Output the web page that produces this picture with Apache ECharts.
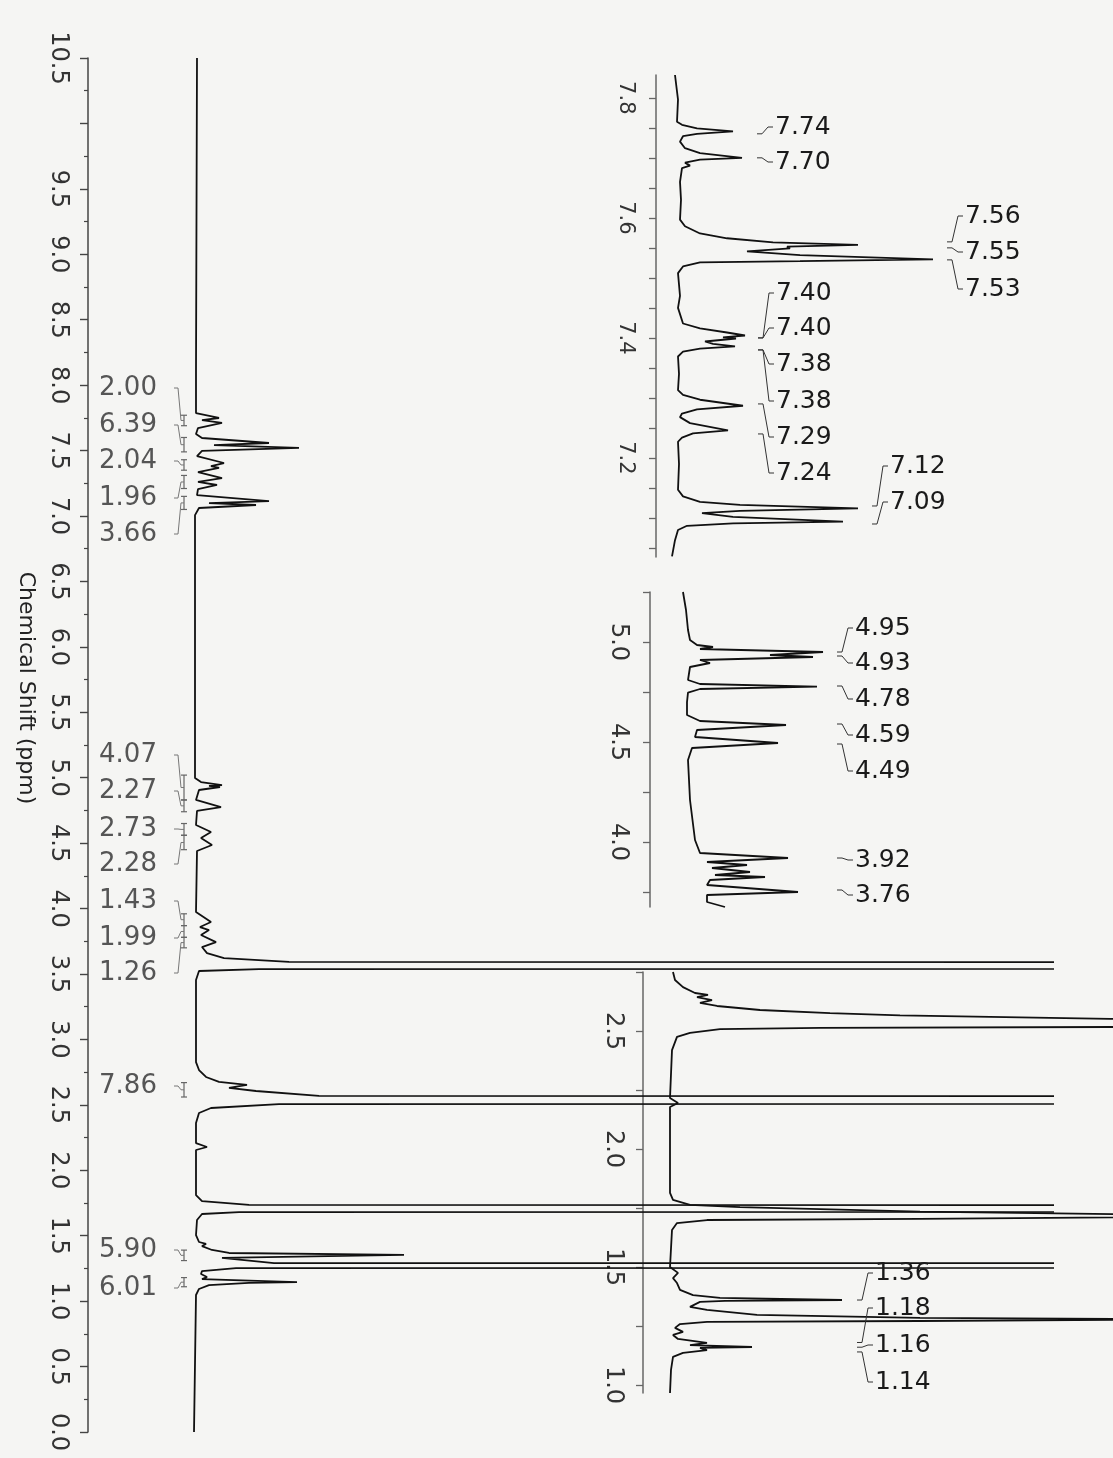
<!DOCTYPE html>
<html><head><meta charset="utf-8">
<script src="https://cdn.jsdelivr.net/npm/echarts@6/dist/echarts.min.js"></script>
<style>html,body{margin:0;padding:0;background:#f5f5f3}#c{width:1113px;height:1458px}</style>
</head><body><div id="c"></div>
<script>
// ---------------- DATA ----------------
// Each spectrum point: [intensity (arb.), chemical shift (ppm)]
const mainSpectrum = [
 [2,10.50],[1,8.12],[1,7.787],[24,7.749],[7,7.733],[27,7.711],[3,7.672],[1,7.627],[7,7.596],[74,7.558],[19,7.542],[104,7.520],[7,7.497],[2,7.458],
 [29,7.405],[16,7.382],[24,7.367],[3,7.336],[27,7.290],[3,7.260],[22,7.237],[3,7.206],[2,7.160],[74,7.114],[14,7.099],[61,7.084],[4,7.061],[0,7.007],
 [0,5.594],[0,4.998],[6,4.967],[27,4.944],[14,4.937],[25,4.929],[4,4.906],[1,4.830],[26,4.776],[2,4.746],[1,4.639],[16,4.585],[6,4.539],[17,4.486],[2,4.440],
 [1,3.974],[16,3.897],[5,3.859],[14,3.836],[6,3.798],[21,3.744],[7,3.706],[12,3.660],[29,3.622],[94,3.592],[20000,3.565],[64,3.538],[4,3.523],[1,3.454],
 [1,2.827],[4,2.766],[11,2.713],[24,2.675],[52,2.652],[34,2.629],[61,2.606],[124,2.568],[20000,2.537],[84,2.506],[16,2.476],[4,2.438],[1,2.361],
 [1,2.208],[12,2.178],[1,2.155],[1,1.811],[7,1.765],[54,1.735],[20000,1.704],[44,1.681],[7,1.666],[2,1.620],[1,1.505],[4,1.452],[11,1.437],[7,1.421],
 [17,1.391],[34,1.368],[209,1.353],[27,1.330],[79,1.291],[20000,1.273],[41,1.253],[7,1.230],[6,1.207],[12,1.184],[7,1.169],[102,1.146],[54,1.139],
 [14,1.123],[4,1.093],[1,1.047],[-1,0.0]
];
const insetASpectrum = [
 [-2,7.838],[1,7.797],[0,7.760],[5,7.755],[20,7.749],[56,7.744],[20,7.740],[6,7.736],[3,7.727],[8,7.716],[23,7.708],[65,7.700],[23,7.697],[8,7.692],
 [13,7.687],[5,7.683],[3,7.660],[4,7.630],[3,7.597],[8,7.586],[23,7.574],[50,7.566],[96,7.559],[181,7.555],[110,7.552],[113,7.549],[70,7.544],
 [123,7.538],[256,7.531],[123,7.528],[23,7.526],[6,7.519],[1,7.508],[3,7.470],[1,7.450],[6,7.424],[23,7.416],[50,7.409],[68,7.404],[46,7.401],
 [59,7.399],[28,7.394],[36,7.390],[58,7.386],[23,7.382],[6,7.377],[1,7.369],[2,7.340],[1,7.313],[6,7.305],[23,7.297],[66,7.287],[20,7.281],[5,7.274],
 [3,7.268],[13,7.258],[51,7.246],[16,7.241],[5,7.234],[1,7.227],[2,7.190],[1,7.147],[6,7.136],[23,7.127],[63,7.122],[181,7.116],[63,7.112],[25,7.108],
 [56,7.102],[166,7.094],[56,7.091],[10,7.087],[1,7.080],[-2,7.063],[-5,7.036]
];
const insetBSpectrum = [
 [-4,5.250],[-1,5.160],[1,5.060],[3,5.010],[10,4.985],[26,4.975],[13,4.965],[136,4.950],[83,4.935],[126,4.925],[13,4.910],[23,4.895],[3,4.875],
 [1,4.810],[13,4.790],[130,4.777],[13,4.765],[1,4.747],[0,4.700],[0,4.635],[13,4.605],[99,4.585],[10,4.560],[8,4.525],[91,4.495],[5,4.470],[1,4.410],
 [3,4.210],[8,4.010],[13,3.945],[101,3.920],[20,3.900],[60,3.885],[25,3.870],[63,3.850],[28,3.835],[78,3.825],[23,3.810],[20,3.785],[111,3.750],
 [20,3.735],[20,3.700],[38,3.675]
];
const insetCSpectrum = [
 [3,2.750],[5,2.716],[13,2.686],[25,2.661],[38,2.653],[27,2.644],[42,2.631],[30,2.619],[47,2.606],[90,2.589],[160,2.576],[230,2.566],[440,2.551],
 [20000,2.535],[440,2.517],[150,2.513],[50,2.508],[20,2.492],[7,2.475],[2,2.419],[0,2.216],[8,2.195],[0,2.178],[0,1.814],[3,1.784],[20,1.763],
 [70,1.754],[250,1.735],[600,1.715],[250,1.704],[37,1.699],[7,1.686],[2,1.657],[0,1.500],[8,1.475],[3,1.453],[7,1.432],[10,1.403],[23,1.381],
 [50,1.369],[172,1.360],[55,1.356],[30,1.352],[20,1.331],[37,1.318],[87,1.297],[250,1.284],[520,1.278],[250,1.271],[37,1.267],[10,1.258],[5,1.242],
 [13,1.225],[3,1.212],[8,1.195],[37,1.178],[20,1.169],[82,1.161],[30,1.157],[37,1.148],[13,1.136],[3,1.119],[1,1.064],[0,0.966]
];

// axis tick / label values
const mainLabelValues = [0,0.5,1,1.5,2,2.5,3,3.5,4,4.5,5,5.5,6,6.5,7,7.5,8,8.5,9,9.5,10.5];
const insetATicks = [7.05,7.10,7.15,7.20,7.25,7.30,7.35,7.40,7.45,7.50,7.55,7.60,7.65,7.70,7.75,7.80];
const insetALabelValues = [7.2,7.4,7.6,7.8];
const insetBTicks = [3.75,4.0,4.25,4.5,4.75,5.0,5.25];
const insetBLabelValues = [4.0,4.5,5.0];
const insetCTicks = [1.0,1.25,1.5,1.75,2.0,2.25,2.5,2.75];
const insetCLabelValues = [1.0,1.5,2.0,2.5];

// peak picking labels (ppm)
const insetAPeaks = ['7.74','7.70','7.56','7.55','7.53','7.40','7.40','7.38','7.38','7.29','7.24','7.12','7.09'];
const insetBPeaks = ['4.95','4.93','4.78','4.59','4.49','3.92','3.76'];
const insetCPeaks = ['1.36','1.18','1.16','1.14'];

// integrals: value, region start, region end (ppm)
const integralValues = ['2.00','6.39','2.04','1.96','3.66','4.07','2.27','2.73','2.28','1.43','1.99','1.26','7.86','5.90','6.01'];
const integralFrom   = [7.77,7.60,7.43,7.31,7.15,5.02,4.83,4.65,4.56,3.96,3.87,3.78,2.67,1.39,1.18];
const integralTo     = [7.69,7.49,7.35,7.21,7.05,4.83,4.74,4.56,4.45,3.87,3.78,3.70,2.56,1.31,1.11];

// ---------------- LAYOUT (annotation placement) ----------------
const LAYOUT = {
  leadA: [80,80,270,270,270,81,81,81,81,81,81,195,195],
  labelYA: [127,162,216,252,289,293,328,364,401,437,473,466,502],
  leadB: [150,150,150,150,150,150,150],
  labelYB: [628,663,699,735,771,860,895],
  leadC: [187,187,187,187],
  labelYC: [1273,1308,1345,1382],
  integralY: [388,425,461,498,534,755,791,829,864,901,938,973,1086,1250,1288]
};

const FONT = '"DejaVu Sans", Verdana, sans-serif';
const chart = echarts.init(document.getElementById('c'), null, {renderer:'canvas'});

function hiddenX(g, min, max){ return {gridIndex:g, type:'value', min:min, max:max, show:false}; }
function insetY(g, min, max, ticks, labels, margin, size){
  return {gridIndex:g, type:'value', min:min, max:max,
    axisLine:{show:true, onZero:false, lineStyle:{color:'#666', width:1.5}},
    axisTick:{show:true, inside:false, length:7, customValues:ticks, lineStyle:{color:'#666', width:1.3}},
    splitLine:{show:false},
    axisLabel:{customValues:labels, rotate:-90, margin:margin, color:'#333', fontSize:size, fontFamily:FONT,
      formatter:v=>Number(v).toFixed(1)}
  };
}
function traceSeries(k, data){
  return {type:'line', xAxisIndex:k, yAxisIndex:k, data:data, showSymbol:false, symbol:'none', clip:true,
    silent:true, lineStyle:{color:'#111', width:1.8}, z:3};
}
function peakLabelSeries(k, labels, lead, labelY){
  return {
    type:'custom', coordinateSystem:'cartesian2d', xAxisIndex:k, yAxisIndex:k, silent:true, z:6,
    data: labels.map(t=>[0, parseFloat(t)]), encode:{x:0, y:1},
    renderItem(params, api){
      const i = params.dataIndex;
      const p = api.coord([lead[i], api.value(1)]);
      const ly = labelY[i];
      return {type:'group', children:[
        {type:'polyline', shape:{points:[[p[0],p[1]],[p[0]+5,p[1]],[p[0]+11,ly],[p[0]+16,ly]]},
          style:{stroke:'#333', lineWidth:1, fill:'none'}},
        {type:'text', style:{text:labels[i], x:p[0]+18, y:ly, fill:'#1a1a1a', font:'25px ' + FONT,
          textAlign:'left', textVerticalAlign:'middle', align:'left', verticalAlign:'middle'}}
      ]};
    }
  };
}
const integralSeries = {
  type:'custom', coordinateSystem:'cartesian2d', xAxisIndex:0, yAxisIndex:0, silent:true, z:6,
  data: integralValues.map((t,i)=>[integralFrom[i], integralTo[i]]),
  renderItem(params, api){
    const i = params.dataIndex;
    const a = api.coord([0, api.value(0)]);
    const b = api.coord([0, api.value(1)]);
    const bx = a[0] - 11, mid = (a[1]+b[1])/2, ly = LAYOUT.integralY[i];
    const st = {stroke:'#666', lineWidth:1.2, fill:'none'};
    return {type:'group', children:[
      {type:'line', shape:{x1:bx, y1:a[1], x2:bx, y2:b[1]}, style:st},
      {type:'line', shape:{x1:bx-3, y1:a[1], x2:bx+3, y2:a[1]}, style:st},
      {type:'line', shape:{x1:bx-3, y1:b[1], x2:bx+3, y2:b[1]}, style:st},
      {type:'polyline', shape:{points:[[a[0]-21, ly],[a[0]-17, ly],[bx-3, mid],[bx, mid]]}, style:{stroke:'#777', lineWidth:1, fill:'none'}},
      {type:'text', style:{text:integralValues[i], x:a[0]-67, y:ly, fill:'#555', font:'26px ' + FONT,
        textAlign:'center', textVerticalAlign:'middle', align:'center', verticalAlign:'middle'}}
    ]};
  }
};

const option = {
  backgroundColor:'#f5f5f3',
  animation:false,
  grid:[
    {left:88, top:58, width:964, height:1374},
    {left:656, top:75, width:457, height:482},
    {left:650, top:592, width:463, height:315},
    {left:643, top:972, width:470, height:421}
  ],
  xAxis:[hiddenX(0,-107,857), hiddenX(1,-21,436), hiddenX(2,-37,426), hiddenX(3,-27,443)],
  yAxis:[
    {gridIndex:0, type:'value', min:0, max:10.5, interval:0.5,
      axisLine:{show:true, onZero:false, lineStyle:{color:'#444', width:1.5}},
      axisTick:{show:true, inside:false, length:8, lineStyle:{color:'#444', width:1.4}},
      minorTick:{show:true, splitNumber:2, length:4, lineStyle:{color:'#444', width:1.2}},
      splitLine:{show:false},
      axisLabel:{customValues:mainLabelValues, rotate:-90, margin:18, color:'#333', fontSize:24, fontFamily:FONT,
        formatter:v=>Number(v).toFixed(1)}
    },
    insetY(1, 7.035, 7.838, insetATicks, insetALabelValues, 20, 21),
    insetY(2, 3.675, 5.25, insetBTicks, insetBLabelValues, 20, 24),
    insetY(3, 0.966, 2.75, insetCTicks, insetCLabelValues, 18, 24)
  ],
  graphic:[{type:'text', x:26, y:688, rotation:-Math.PI/2, silent:true,
    style:{text:'Chemical Shift (ppm)', font:'22px ' + FONT, fill:'#222', textAlign:'center', textVerticalAlign:'middle', align:'center', verticalAlign:'middle'}}],
  series:[
    traceSeries(0, mainSpectrum),
    traceSeries(1, insetASpectrum),
    traceSeries(2, insetBSpectrum),
    traceSeries(3, insetCSpectrum),
    integralSeries,
    peakLabelSeries(1, insetAPeaks, LAYOUT.leadA, LAYOUT.labelYA),
    peakLabelSeries(2, insetBPeaks, LAYOUT.leadB, LAYOUT.labelYB),
    peakLabelSeries(3, insetCPeaks, LAYOUT.leadC, LAYOUT.labelYC)
  ]
};
chart.setOption(option);
</script></body></html>
